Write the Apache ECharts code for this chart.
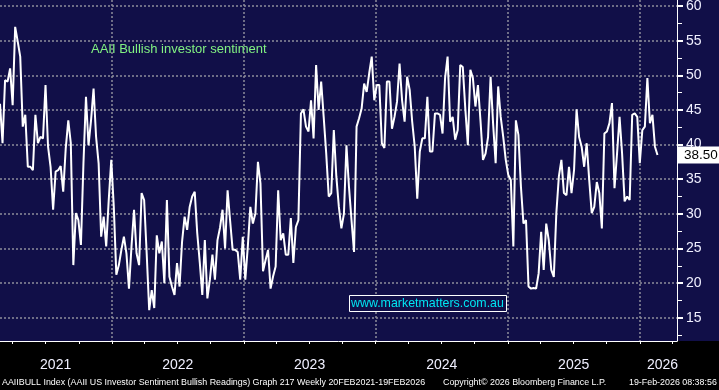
<!DOCTYPE html>
<html>
<head>
<meta charset="utf-8">
<script src="https://cdn.jsdelivr.net/npm/echarts@6/dist/echarts.min.js"></script>
<style>
  html, body { margin: 0; padding: 0; background: #000; }
  #chart { width: 719px; height: 390px; }
</style>
</head>
<body>
<div id="chart"></div>
<script>
// AAII 周度看多比例（每周四公布），2021-02-25 起
const firstWeek = '2021-02-25'
const bullish = [
  45.9, 40.2, 49.3, 49.1, 51.0, 45.7, 57.0, 54.9, 52.7, 42.6,
  44.3, 36.8, 36.8, 36.3, 44.3, 40.2, 41.1, 40.9, 48.6, 39.7,
  36.8, 30.6, 36.1, 36.3, 36.9, 33.2, 39.5, 43.5, 40.2, 22.6,
  30.1, 29.1, 25.5, 37.3, 46.9, 39.9, 43.5, 48.1, 41.1, 37.3,
  26.7, 29.6, 25.3, 32.0, 37.8, 31.0, 21.2, 22.6, 24.8, 26.7,
  24.3, 19.2, 25.3, 30.6, 24.3, 22.6, 33.0, 32.0, 24.3, 16.1,
  19.0, 16.4, 26.9, 24.3, 26.0, 20.0, 32.0, 20.9, 19.5, 18.3,
  22.9, 19.5, 26.0, 29.6, 27.7, 31.0, 32.5, 33.2, 27.2, 23.0,
  18.3, 26.2, 17.8, 20.5, 24.1, 20.5, 26.2, 28.0, 30.6, 25.0,
  33.4, 29.0, 24.8, 24.8, 24.5, 20.5, 26.7, 20.5, 25.3, 31.0,
  28.6, 30.1, 37.5, 34.4, 21.7, 23.3, 24.8, 19.2, 21.0, 22.4,
  33.4, 26.2, 27.2, 24.1, 24.1, 29.4, 22.9, 28.1, 29.1, 44.5,
  45.1, 42.6, 41.9, 46.4, 40.9, 51.5, 45.0, 49.1, 44.0, 38.7,
  32.5, 33.0, 42.1, 35.4, 31.0, 27.9, 30.0, 39.9, 33.9, 29.1,
  24.5, 42.6, 43.8, 45.2, 48.8, 47.6, 50.3, 52.7, 46.4, 48.6,
  48.6, 40.2, 39.5, 49.1, 49.1, 42.3, 44.0, 46.2, 51.7, 46.4,
  43.3, 49.8, 47.9, 43.3, 39.7, 32.2, 39.0, 40.9, 40.9, 46.9,
  39.0, 39.0, 44.5, 44.5, 44.3, 41.6, 49.6, 52.7, 43.3, 44.0,
  40.7, 42.1, 51.5, 51.2, 45.2, 39.9, 50.8, 49.6, 45.5, 48.6,
  43.5, 37.8, 38.7, 41.1, 49.8, 43.0, 37.3, 48.4, 44.0, 41.1,
  37.8, 35.6, 34.9, 25.3, 43.5, 41.4, 33.9, 28.6, 29.1, 19.5,
  19.2, 19.3, 19.2, 21.4, 27.4, 21.9, 28.6, 26.2, 21.9, 20.9,
  30.1, 35.4, 37.8, 33.0, 32.7, 36.8, 33.0, 36.3, 45.1, 41.1,
  39.7, 36.8, 40.2, 34.9, 30.1, 31.0, 34.6, 33.0, 27.9, 41.6,
  41.9, 43.1, 46.0, 33.7, 38.7, 44.0, 38.7, 31.8, 32.5, 32.0,
  44.3, 44.5, 44.0, 37.3, 42.1, 42.6, 49.6, 43.1, 44.3, 39.7,
  38.5
]
const lastValue = 38.5

const yTicks = [15, 20, 25, 30, 35, 40, 45, 50, 55, 60]
const yMinorTicks = [12.5, 17.5, 22.5, 27.5, 32.5, 37.5, 42.5, 47.5, 52.5, 57.5]
const yearStarts = ['2022-01-01', '2023-01-01', '2024-01-01', '2025-01-01', '2026-01-01']
const quarterTicks = [
  '2021-04-01', '2021-07-01', '2021-10-01', '2022-01-01', '2022-04-01', '2022-07-01', '2022-10-01',
  '2023-01-01', '2023-04-01', '2023-07-01', '2023-10-01', '2024-01-01', '2024-04-01', '2024-07-01',
  '2024-10-01', '2025-01-01', '2025-04-01', '2025-07-01', '2025-10-01', '2026-01-01', '2026-04-01'
]
// 年份标签放在各年可见区间的中间
const yearLabelAt = ['2021-07-29', '2022-07-02', '2023-07-02', '2024-07-02', '2025-07-02', '2026-03-05']

const title = 'AAII Bullish investor sentiment'
const watermark = 'www.marketmatters.com.au'
const footerLeft = 'AAIIBULL Index (AAII US Investor Sentiment Bullish Readings) Graph 217 Weekly 20FEB2021-19FEB2026'
const footerMid = 'Copyright\u00a9 2026 Bloomberg Finance L.P.'
const footerRight = '19-Feb-2026 08:38:56'

const xMin = '2021-02-25'
const xMax = '2026-04-14'
const yMin = 11.64
const yMax = 60.88

const ts = (d) => new Date(d + 'T00:00:00').getTime()
const t0 = ts(firstWeek)
const seriesData = bullish.map((v, i) => [t0 + i * 7 * 86400000, v])

const navy = '#110f48'
const dotted = { color: '#8d8d9b', width: 1.5, type: [2, 2] }
const font = '"Liberation Sans", Arial, sans-serif'

const chart = echarts.init(document.getElementById('chart'))

// 用数值轴承载时间戳，便于自定义刻度位置
function dateAxis(extra) {
  return Object.assign({
    type: 'value',
    min: ts(xMin),
    max: ts(xMax),
    gridIndex: 0,
    axisLine: { show: false },
    axisTick: { show: false },
    axisLabel: { show: false },
    splitLine: { show: false },
  }, extra)
}

function valueAxis(extra) {
  return Object.assign({
    type: 'value',
    position: 'right',
    min: yMin,
    max: yMax,
    axisLine: { show: false },
    axisTick: { show: false },
    axisLabel: { show: false },
    splitLine: { show: false },
  }, extra)
}

const footerStyle = { color: '#fff', fontSize: 8.9, fontWeight: 'normal', fontFamily: font }

chart.setOption({
  backgroundColor: navy,
  animation: false,
  textStyle: { fontFamily: font },
  graphic: [{
    type: 'rect', z: -10, left: 0, top: 341,
    shape: { width: 719, height: 49 },
    style: { fill: '#000' },
  }],
  title: [
    {
      text: title, left: 91, top: 43, padding: 0,
      textStyle: { color: '#82f282', fontSize: 13, fontWeight: 'normal', fontFamily: font },
    },
    {
      text: watermark, left: 349, top: 295, padding: [3, 3, 2, 2],
      borderColor: '#fff', borderWidth: 1, backgroundColor: navy,
      textStyle: { color: '#00e5f2', fontSize: 12.4, fontWeight: 'normal', fontFamily: font },
    },
    { text: footerLeft, left: 2, top: 378, padding: 0, textStyle: footerStyle },
    { text: footerMid, left: 443, top: 378, padding: 0, textStyle: footerStyle },
    { text: footerRight, left: 629, top: 378, padding: 0, textStyle: footerStyle },
  ],
  grid: { left: 0, right: 42, top: 0, bottom: 49, outerBoundsMode: 'none' },
  xAxis: [
    dateAxis({
      axisLine: { show: true, lineStyle: { color: '#fff', width: 1 } },
      axisTick: { show: true, customValues: quarterTicks.map(ts), length: 3, lineStyle: { color: '#fff' } },
      axisLabel: {
        show: true, customValues: yearLabelAt.map(ts), margin: 17,
        formatter: (v) => String(new Date(v).getFullYear()),
        color: '#f0f0ff', fontSize: 14, fontFamily: font,
      },
    }),
    // 图内年分隔虚线
    dateAxis({
      axisTick: { show: false, customValues: yearStarts.map(ts) },
      splitLine: { show: true, lineStyle: dotted },
    }),
    // 轴下方的年分隔竖线
    dateAxis({
      axisTick: { show: true, customValues: yearStarts.map(ts), length: 33, lineStyle: { color: '#8a8a8a', width: 1.5 } },
    }),
  ],
  yAxis: [
    valueAxis({
      axisLine: { show: true, lineStyle: { color: '#fff', width: 1 } },
      axisTick: { show: true, customValues: yTicks, length: 6, lineStyle: { color: '#fff', width: 2 } },
      axisLabel: { show: true, customValues: yTicks, margin: 9, color: '#f0f0ff', fontSize: 14, fontFamily: font },
      splitLine: { show: true, lineStyle: dotted },
    }),
    valueAxis({
      axisTick: { show: true, customValues: yMinorTicks, length: 5, lineStyle: { color: '#fff', width: 1 } },
    }),
    valueAxis({
      axisLabel: {
        show: true, customValues: [lastValue], margin: 1,
        formatter: (v) => Number(v).toFixed(2),
        color: '#000', backgroundColor: '#fff', padding: [2, 3, 1, 6],
        fontSize: 13.5, fontFamily: font,
      },
    }),
  ],
  series: [{
    type: 'line',
    xAxisIndex: 0,
    yAxisIndex: 0,
    data: seriesData,
    symbol: 'none',
    lineStyle: { color: '#fff', width: 2 },
  }],
})
</script>
</body>
</html>
